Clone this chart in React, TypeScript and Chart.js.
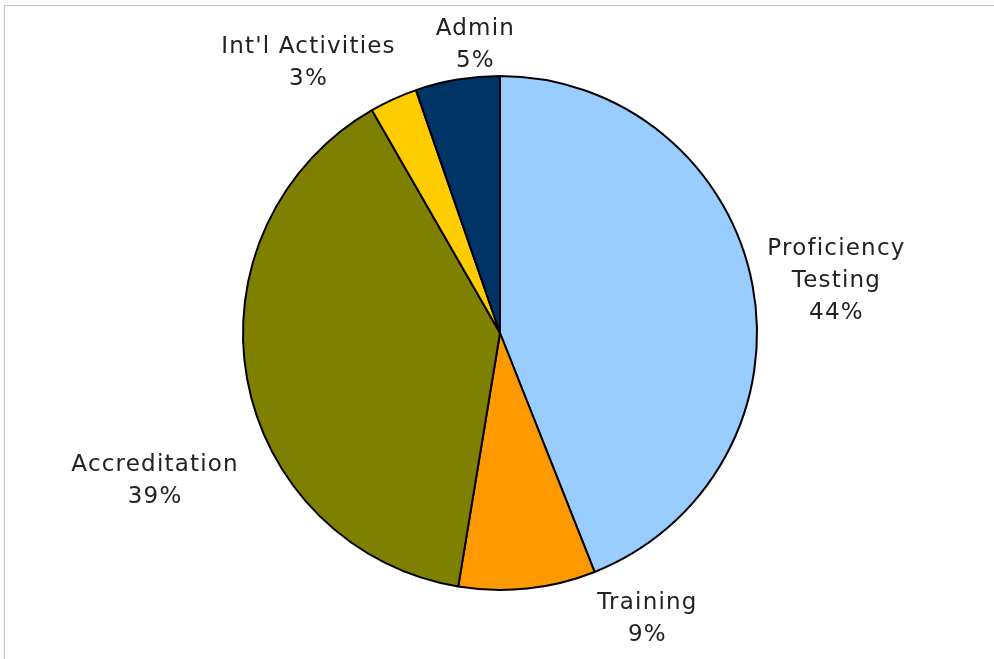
import React, { useEffect, useRef } from "react";
import { Chart, registerables } from "chart.js";

Chart.register(...registerables);

const categories = ["Proficiency Testing", "Training", "Accreditation", "Int'l Activities", "Admin"];
const labelLines = [["Proficiency", "Testing"], ["Training"], ["Accreditation"], ["Int'l Activities"], ["Admin"]];
const shares = [44, 8.6, 39.1, 3.0, 5.3];
const colors = ["#99CCFF", "#FF9900", "#808000", "#FFCC00", "#003366"];
// label nudges (px) relative to each slice's outer mid-point
const labelNudge = [
  [84, -4],
  [120, 30],
  [-92, 102],
  [-85, -36],
  [18, -35],
];

const FONT = '"DejaVu Sans", sans-serif';

const labelPlugin = {
  id: "outerLabels",
  afterDatasetsDraw(chart: any) {
    const ctx = chart.ctx;
    const meta = chart.getDatasetMeta(0);
    ctx.save();
    ctx.fillStyle = "#222222";
    ctx.font = `23px ${FONT}`;
    try { (ctx as any).letterSpacing = "1.2px"; } catch (e) {}
    ctx.textAlign = "center";
    ctx.textBaseline = "middle";
    meta.data.forEach((arc: any, i: number) => {
      const p = arc.getProps(["x", "y", "startAngle", "endAngle", "outerRadius"], true);
      const mid = (p.startAngle + p.endAngle) / 2;
      const ax = p.x + Math.cos(mid) * p.outerRadius + labelNudge[i][0];
      const ay = p.y + Math.sin(mid) * p.outerRadius + labelNudge[i][1];
      const lines = [...labelLines[i], `${Math.round(shares[i])}%`];
      const lh = 32;
      const top = ay - ((lines.length - 1) * lh) / 2;
      lines.forEach((t, k) => ctx.fillText(t, ax, top + k * lh));
    });
    ctx.restore();
  },
};

export default function App() {
  const ref = useRef<HTMLCanvasElement | null>(null);
  useEffect(() => {
    document.body.style.margin = "0";
    const chart = new Chart(ref.current as HTMLCanvasElement, {
      type: "pie",
      data: {
        labels: categories,
        datasets: [
          {
            data: shares,
            backgroundColor: colors,
            borderColor: "#000000",
            borderWidth: 2,
          },
        ],
      },
      options: {
        animation: false,
        responsive: false,
        layout: { padding: { left: 242, right: 236, top: 75, bottom: 68 } },
        plugins: { legend: { display: false }, tooltip: { enabled: false } },
      },
      plugins: [labelPlugin],
    });
    return () => chart.destroy();
  }, []);
  return (
    <div style={{ position: "absolute", left: 0, top: 0, width: 994, height: 659, background: "#ffffff", overflow: "hidden" }}>
      <div style={{ position: "absolute", left: 4, top: 5, width: 990, height: 654, borderTop: "1px solid #c4c4c4", borderLeft: "1px solid #c4c4c4" }} />
      <canvas ref={ref} width={994} height={659} style={{ position: "absolute", left: 0, top: 0 }} />
    </div>
  );
}
